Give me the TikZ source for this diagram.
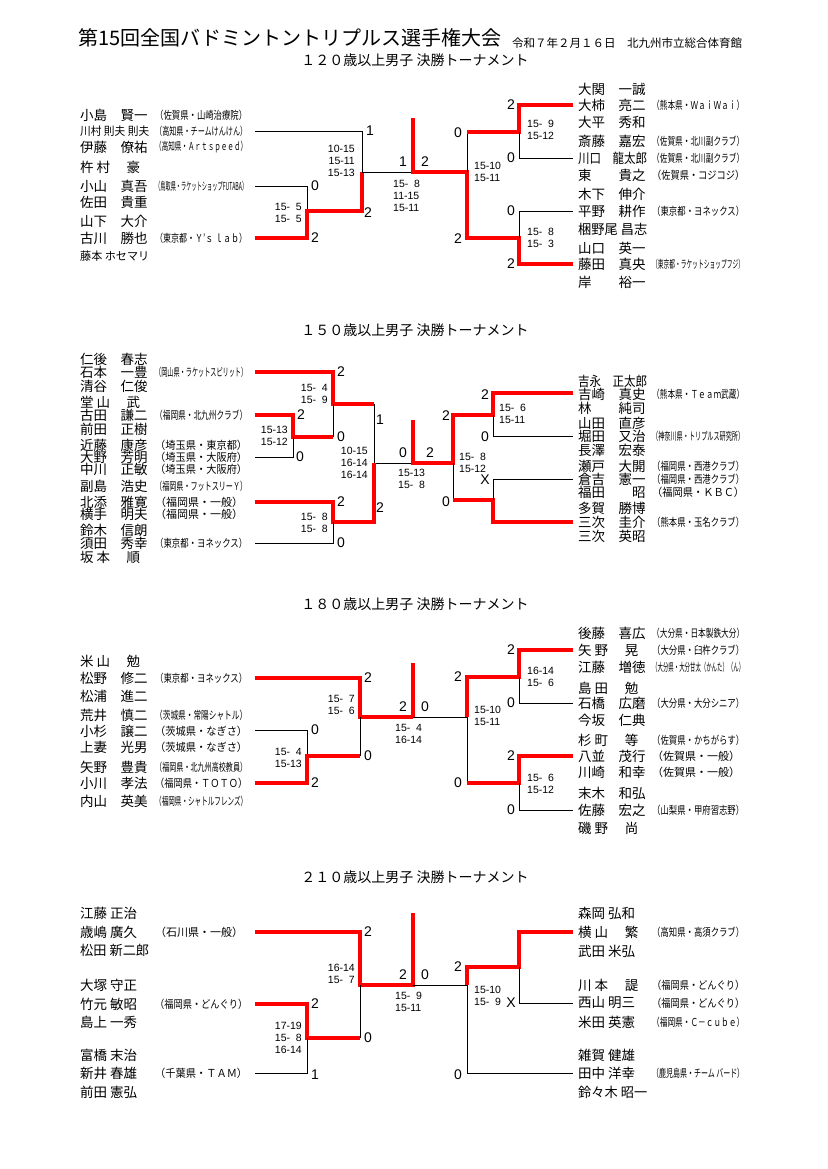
\documentclass[tikz,border=0pt]{standalone}
\usepackage{fontspec}
\setmainfont{Noto Sans CJK JP}
\newfontfamily\num{Liberation Sans}
\newcommand\sq{\hphantom{0}}
\newcommand\fitbx[3]{\sbox0{\fontsize{#2}{#2}\selectfont #3}\ifdim\wd0>#1pt\pgfmathsetmacro\fac{#1/\wd0}\scalebox{\fac}[1]{\usebox0}\else\usebox0\fi}
\tikzset{
  rl/.style={draw=red,line width=3.5pt,line join=miter},
  bl/.style={draw=black,line width=0.9pt},
  nm/.style={anchor=west,inner sep=0pt},
  cl/.style={anchor=west,inner sep=0pt},
  sc/.style={inner sep=0pt,font=\num\fontsize{14}{14}\selectfont},
  sb/.style={inner sep=0pt,align=right,font=\num\fontsize{10.5}{12}\selectfont},
  sbl/.style={inner sep=0pt,align=left,font=\num\fontsize{10.5}{12}\selectfont},
  sub/.style={inner sep=0pt,font=\fontsize{14}{14}\selectfont}
}
\newcommand\Lft[3]{\node[nm] at (80,#1) {\fitbx{69}{13.5}{#2}}; \node[cl] at (155,#1) {\fitbx{92}{11}{#3}};}
\newcommand\Rgt[3]{\node[nm] at (578,#1) {\fitbx{69}{13.5}{#2}}; \node[cl] at (652,#1) {\fitbx{92}{11}{#3}};}
\begin{document}
\begin{tikzpicture}[x=1pt,y=-1pt]
\useasboundingbox[fill=white] (0,0) rectangle (827,1169);
\node[anchor=west,inner sep=0pt,font=\fontsize{20}{20}\selectfont] (title) at (78,38) {第15回全国バドミントントリプルス選手権大会};
\node[anchor=west,inner sep=0pt,font=\fontsize{11.5}{12}\selectfont] (date) at (512,43) {令和７年２月１６日　北九州市立総合体育館};
\node[sub] (s1) at (415,60) {１２０歳以上男子 決勝トーナメント};
\node[sub] (s2) at (415,330) {１５０歳以上男子 決勝トーナメント};
\node[sub] (s3) at (415,604) {１８０歳以上男子 決勝トーナメント};
\node[sub] (s4) at (415,877) {２１０歳以上男子 決勝トーナメント};

% ---------- T1 names
\Lft{115}{小島　賢一}{（佐賀県・山崎治療院）}
\node[nm] at (80,131) {\fitbx{69}{11.5}{川村 則夫 則夫}}; \node[cl] at (155,131) {\fitbx{92}{11}{（高知県・チームけんけん）}};
\Lft{147}{伊藤　僚祐}{（高知県・Ａｒｔｓｐｅｅｄ）}
\Lft{167}{杵 村　 豪}{}
\Lft{186}{小山　真吾}{（鳥取県・ラケットショップFUTABA）}
\Lft{202}{佐田　貴重}{}
\Lft{221}{山下　大介}{}
\Lft{238}{古川　勝也}{（東京都・Ｙ’ｓ ｌａｂ）}
\node[nm] at (80,256) {\fitbx{69}{11.5}{藤本 ホセマリ}};
\Rgt{89}{大関　一誠}{}
\Rgt{105}{大柿　亮二}{（熊本県・ＷａｉＷａｉ）}
\Rgt{122}{大平　秀和}{}
\Rgt{141}{斎藤　嘉宏}{（佐賀県・北川副クラブ）}
\Rgt{158}{川口　龍太郎}{（佐賀県・北川副クラブ）}
\Rgt{175}{東　　貴之}{（佐賀県・コジコジ）}
\Rgt{194}{木下　伸介}{}
\Rgt{211}{平野　耕作}{（東京都・ヨネックス）}
\Rgt{229}{梱野尾 昌志}{}
\Rgt{248}{山口　英一}{}
\Rgt{264}{藤田　真央}{（東京都・ラケットショップフジ）}
\Rgt{282}{岸　　裕一}{}
% T1 lines
\draw[bl] (255,131)--(362,131)--(362,172);
\draw[bl] (255,186)--(307,186)--(307,211);
\draw[rl] (255,238)--(307,238)--(307,211)--(362,211)--(362,172);
\draw[bl] (362,172)--(413,172);
\draw[rl] (413,118)--(413,172)--(467,172)--(467,238)--(519,238)--(519,264)--(573,264);
\draw[bl] (467,172)--(467,132);
\draw[rl] (467,132)--(519,132)--(519,105)--(573,105);
\draw[bl] (519,132)--(519,158)--(573,158);
\draw[bl] (519,238)--(519,211)--(573,211);
\foreach \x/\y/\t in {370/131/1,315/186/0,315/238/2,368/213/2,403/162/1,425/162/2,458/133/0,458/239/2,511/105/2,511/158/0,511/211/0,511/264/2}
  \node[sc] at (\x,\y) {\t};
\node[sb,anchor=east] at (355,161) {10-15\\15-11\\15-13};
\node[sb,anchor=east] at (302,213) {15-\sq5\\15-\sq5};
\node[sbl,anchor=west] at (393,196) {15-\sq8\\11-15\\15-11};
\node[sbl,anchor=west] at (474,172) {15-10\\15-11};
\node[sbl,anchor=west] at (527,130) {15-\sq9\\15-12};
\node[sbl,anchor=west] at (527,238) {15-\sq8\\15-\sq3};

% ---------- T2
\Lft{359}{仁後　春志}{}
\Lft{372}{石本　一豊}{（岡山県・ラケットスピリット）}
\Lft{386}{清谷　仁俊}{}
\Lft{402}{堂 山　 武}{}
\Lft{415}{古田　謙二}{（福岡県・北九州クラブ）}
\Lft{429}{前田　正樹}{}
\Lft{445}{近藤　康彦}{（埼玉県・東京都）}
\Lft{457}{大野　芳明}{（埼玉県・大阪府）}
\Lft{469}{中川　正敏}{（埼玉県・大阪府）}
\Lft{486}{副島　浩史}{（福岡県・フットスリーＹ）}
\Lft{502}{北添　雅寛}{（福岡県・一般）}
\Lft{514}{横手　明夫}{（福岡県・一般）}
\Lft{530}{鈴木　信朗}{}
\Lft{543}{須田　秀幸}{（東京都・ヨネックス）}
\Lft{557}{坂 本　 順}{}
\Rgt{381}{吉永　正太郎}{}
\Rgt{394}{吉崎　真史}{（熊本県・Ｔｅａｍ武蔵）}
\Rgt{408}{林　　純司}{}
\Rgt{423}{山田　直彦}{}
\Rgt{436}{堀田　又治}{（神奈川県・トリプルス研究所）}
\Rgt{450}{長澤　宏泰}{}
\Rgt{466}{瀬戸　大開}{（福岡県・西港クラブ）}
\Rgt{479}{倉吉　憲一}{（福岡県・西港クラブ）}
\Rgt{492}{福田　　昭}{（福岡県・ＫＢＣ）}
\Rgt{508}{多賀　勝博}{}
\Rgt{522}{三次　圭介}{（熊本県・玉名クラブ）}
\Rgt{536}{三次　英昭}{}
\draw[rl] (255,372)--(333,372)--(333,404)--(374,404);
\draw[bl] (374,404)--(374,463)--(413,463);
\draw[rl] (255,415)--(293,415)--(293,437)--(333,437);
\draw[bl] (255,457)--(293,457)--(293,437);
\draw[bl] (333,404)--(333,437);
\draw[rl] (255,502)--(333,502)--(333,522)--(374,522)--(374,463);
\draw[bl] (255,543)--(333,543)--(333,522);
\draw[rl] (413,420)--(413,463)--(453,463)--(453,415)--(493,415)--(493,393)--(573,393);
\draw[bl] (493,415)--(493,436)--(573,436);
\draw[bl] (453,463)--(453,500);
\draw[rl] (453,500)--(493,500)--(493,522)--(573,522);
\draw[bl] (493,500)--(493,479)--(573,479);
\foreach \x/\y/\t in {341/372/2,301/415/2,300/457/0,341/437/0,341/502/2,341/543/0,380/420/1,380/508/2,403/453/0,430/453/2,446/416/2,446/502/0,485/395/2,485/437/0,485/480/X}
  \node[sc] at (\x,\y) {\t};
\node[sb,anchor=east] at (328,394) {15-\sq4\\15-\sq9};
\node[sb,anchor=east] at (288,436) {15-13\\15-12};
\node[sb,anchor=east] at (368,463) {10-15\\16-14\\16-14};
\node[sb,anchor=east] at (328,523) {15-\sq8\\15-\sq8};
\node[sbl,anchor=west] at (398,479) {15-13\\15-\sq8};
\node[sbl,anchor=west] at (459,463) {15-\sq8\\15-12};
\node[sbl,anchor=west] at (499,414) {15-\sq6\\15-11};

% ---------- T3
\Lft{661}{米 山　 勉}{}
\Lft{678}{松野　修二}{（東京都・ヨネックス）}
\Lft{696}{松浦　進二}{}
\Lft{715}{荒井　慎二}{（茨城県・常陽シャトル）}
\Lft{731}{小杉　譲二}{（茨城県・なぎさ）}
\Lft{747}{上妻　光男}{（茨城県・なぎさ）}
\Lft{767}{矢野　豊貴}{（福岡県・北九州高校教員）}
\Lft{783}{小川　孝法}{（福岡県・ＴＯＴＯ）}
\Lft{801}{内山　英美}{（福岡県・シャトルフレンズ）}
\Rgt{633}{後藤　喜広}{（大分県・日本製鉄大分）}
\Rgt{650}{矢 野　 晃}{（大分県・臼杵クラブ）}
\Rgt{667}{江藤　増徳}{（大分県・大分甘太（かんた）（ん）}
\Rgt{688}{島 田　 勉}{}
\Rgt{703}{石橋　広磨}{（大分県・大分シニア）}
\Rgt{720}{今坂　仁典}{}
\Rgt{740}{杉 町　 等}{（佐賀県・かちがらす）}
\Rgt{756}{八並　茂行}{（佐賀県・一般）}
\Rgt{772}{川崎　和幸}{（佐賀県・一般）}
\Rgt{793}{末木　和弘}{}
\Rgt{810}{佐藤　宏之}{（山梨県・甲府習志野）}
\Rgt{828}{磯 野　 尚}{}
\draw[rl] (255,678)--(360,678)--(360,717)--(413,717);
\draw[rl] (413,663)--(413,717);
\draw[bl] (413,717)--(467,717);
\draw[bl] (255,730)--(307,730)--(307,756);
\draw[rl] (255,783)--(307,783)--(307,756)--(360,756);
\draw[bl] (360,756)--(360,717);
\draw[rl] (467,717)--(467,677)--(519,677)--(519,650)--(573,650);
\draw[bl] (519,677)--(519,703)--(573,703);
\draw[bl] (467,717)--(467,783);
\draw[rl] (467,783)--(519,783)--(519,756)--(573,756);
\draw[bl] (519,783)--(519,810)--(573,810);
\foreach \x/\y/\t in {368/678/2,315/730/0,315/783/2,368/756/0,403/707/2,425/707/0,458/677/2,458/783/0,511/650/2,511/703/0,511/756/2,511/810/0}
  \node[sc] at (\x,\y) {\t};
\node[sb,anchor=east] at (355,705) {15-\sq7\\15-\sq6};
\node[sb,anchor=east] at (302,758) {15-\sq4\\15-13};
\node[sbl,anchor=west] at (395,734) {15-\sq4\\16-14};
\node[sbl,anchor=west] at (474,716) {15-10\\15-11};
\node[sbl,anchor=west] at (527,677) {16-14\\15-\sq6};
\node[sbl,anchor=west] at (527,784) {15-\sq6\\15-12};

% ---------- T4
\Lft{913}{江藤 正治}{}
\Lft{932}{歳嶋 廣久}{（石川県・一般）}
\Lft{950}{松田 新二郎}{}
\Lft{985}{大塚 守正}{}
\Lft{1004}{竹元 敏昭}{（福岡県・どんぐり）}
\Lft{1022}{島上 一秀}{}
\Lft{1055}{富橋 末治}{}
\Lft{1073}{新井 春雄}{（千葉県・ＴＡＭ）}
\Lft{1092}{前田 憲弘}{}
\Rgt{913}{森岡 弘和}{}
\Rgt{932}{横 山　 繁}{（高知県・高須クラブ）}
\Rgt{951}{武田 米弘}{}
\Rgt{985}{川 本　 諟}{（福岡県・どんぐり）}
\Rgt{1003}{西山 明三}{（福岡県・どんぐり）}
\Rgt{1022}{米田 英憲}{（福岡県・Ｃ－ｃｕｂｅ）}
\Rgt{1055}{雑賀 健雄}{}
\Rgt{1073}{田中 洋幸}{（鹿児島県・チーム バード）}
\Rgt{1092}{鈴々木 昭一}{}
\draw[rl] (255,932)--(360,932)--(360,985)--(413,985)--(413,913);
\draw[bl] (413,985)--(467,985);
\draw[rl] (255,1004)--(307,1004)--(307,1038)--(360,1038);
\draw[bl] (360,1038)--(360,985);
\draw[bl] (255,1073)--(307,1073)--(307,1038);
\draw[rl] (467,985)--(467,967)--(519,967)--(519,932)--(573,932);
\draw[bl] (519,967)--(519,1003)--(573,1003);
\draw[bl] (467,985)--(467,1073)--(573,1073);
\foreach \x/\y/\t in {368/932/2,315/1004/2,315/1075/1,368/1038/0,403/975/2,425/975/0,458/967/2,458/1075/0,511/1003/X}
  \node[sc] at (\x,\y) {\t};
\node[sb,anchor=east] at (355,974) {16-14\\15-\sq7};
\node[sb,anchor=east] at (302,1038) {17-19\\15-\sq8\\16-14};
\node[sbl,anchor=west] at (395,1002) {15-\sq9\\15-11};
\node[sbl,anchor=west] at (474,996) {15-10\\15-\sq9};
\end{tikzpicture}
\end{document}
